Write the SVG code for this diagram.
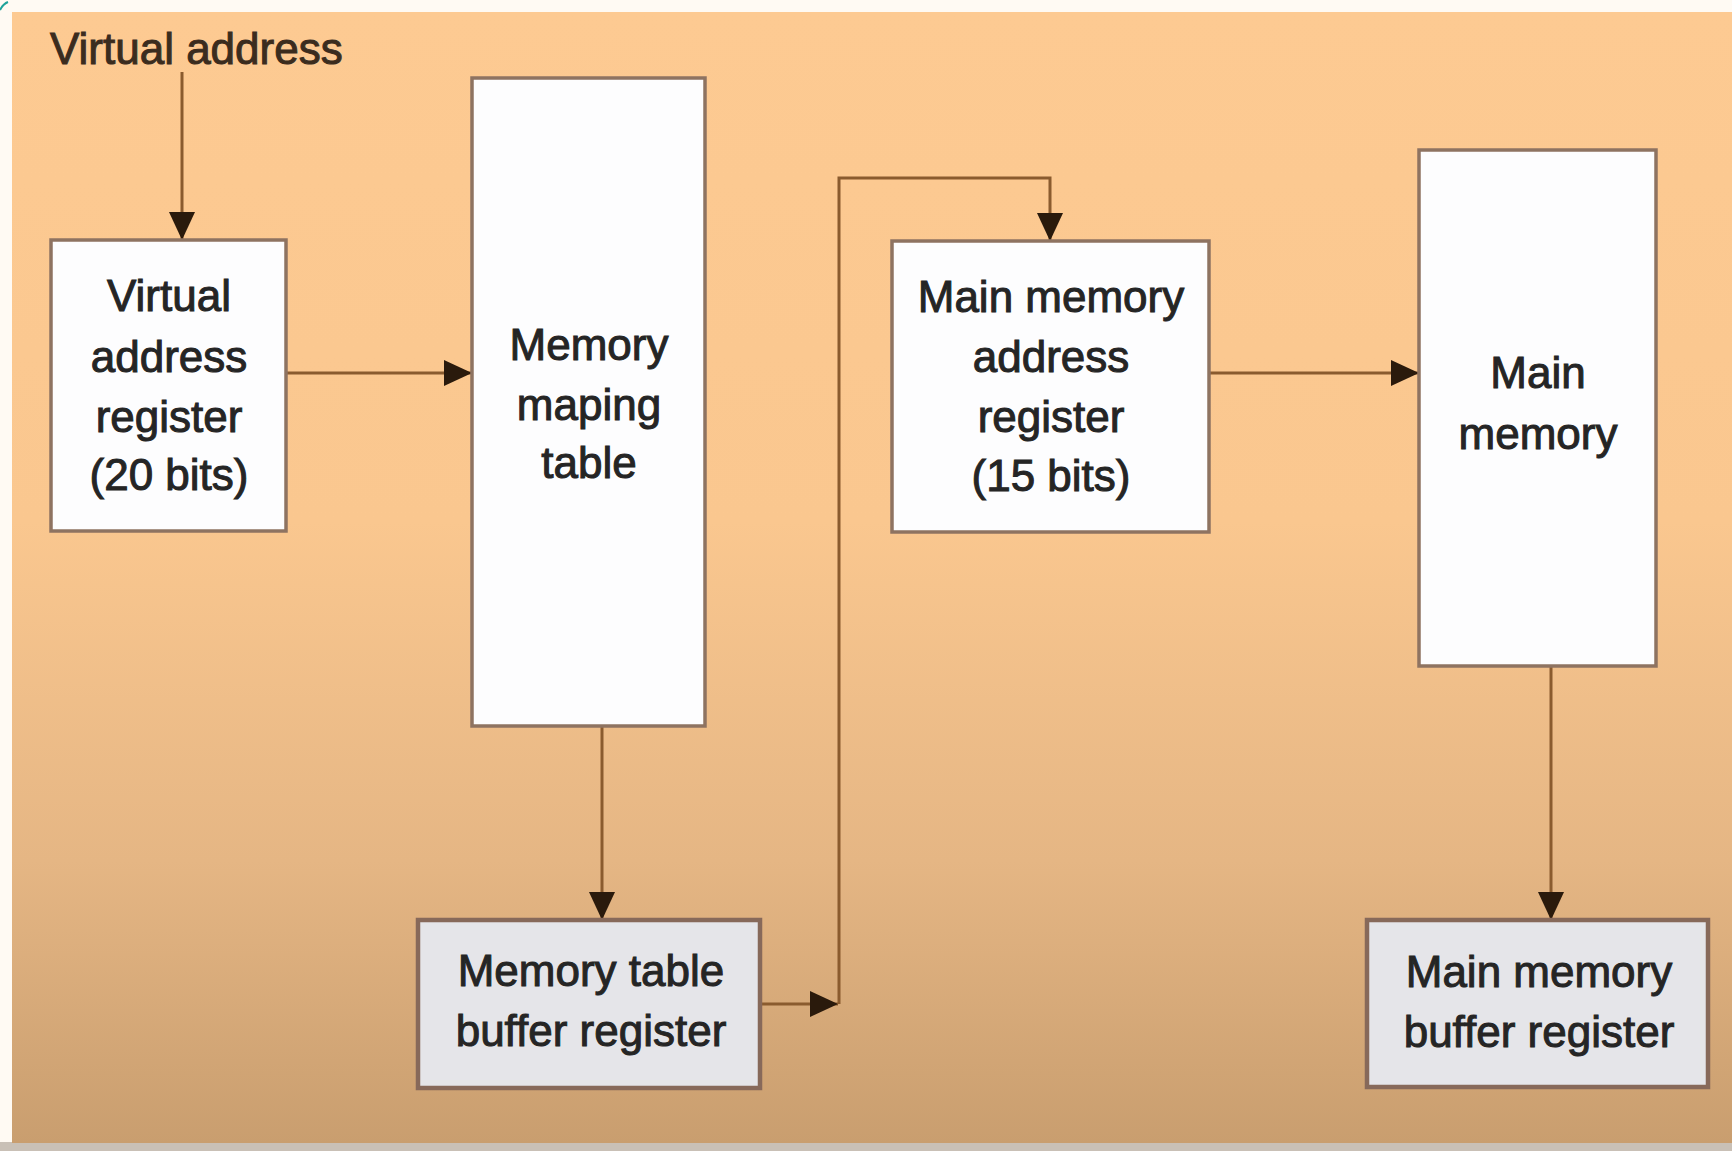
<svg xmlns="http://www.w3.org/2000/svg" width="1732" height="1151" viewBox="0 0 1732 1151">
  <style>
    .lbl { font-family: "Liberation Sans", Arial, sans-serif; font-size: 44px; fill: #252525; stroke: #252525; stroke-width: 1px; text-anchor: middle; }
    .title { font-family: "Liberation Sans", Arial, sans-serif; font-size: 44px; fill: #3b2c1e; stroke: #3b2c1e; stroke-width: 1px; }
    .box { fill: #fdfdfe; stroke: #8e7361; stroke-width: 3.5; }
    .buf { fill: #e5e5e9; stroke: #87695a; stroke-width: 4.5; }
    .wire { fill: none; stroke: #8a5b2e; stroke-width: 3; }
  </style>
  <defs>
    <linearGradient id="bg" x1="0" y1="0" x2="0" y2="1">
      <stop offset="0" stop-color="#fdca92"/>
      <stop offset="0.45" stop-color="#fac78f"/>
      <stop offset="0.75" stop-color="#e5b684"/>
      <stop offset="1" stop-color="#c99e6f"/>
    </linearGradient>
    <marker id="head" markerUnits="userSpaceOnUse" markerWidth="30" markerHeight="28" refX="28" refY="13" orient="auto">
      <path d="M0,0 L28,13 L0,26 Z" fill="#2a1a0c"/>
    </marker>
  </defs>

  <!-- page surround -->
  <rect x="0" y="0" width="1732" height="1151" fill="#fffaf3"/>
  <rect x="0" y="1142" width="1732" height="9" fill="#c9c0b6"/>
  <path d="M0,10 Q3,4 8,2" fill="none" stroke="#1fa39a" stroke-width="2"/>

  <!-- panel background -->
  <rect x="12" y="12" width="1720" height="1131" fill="url(#bg)"/>

  <text class="title" x="50" y="64">Virtual address</text>

  <!-- connectors -->
  <g id="connectors">
    <path class="wire" d="M182,72 V240" marker-end="url(#head)"/>
    <path class="wire" d="M286,373 H472" marker-end="url(#head)"/>
    <path class="wire" d="M602,726 V920" marker-end="url(#head)"/>
    <path class="wire" d="M760,1004 H838" marker-end="url(#head)"/>
    <path class="wire" d="M839,1004 V178 H1050 V241" marker-end="url(#head)"/>
    <path class="wire" d="M1209,373 H1419" marker-end="url(#head)"/>
    <path class="wire" d="M1551,666 V920" marker-end="url(#head)"/>
  </g>

  <!-- nodes -->
  <g id="virtual-address-register">
    <rect class="box" x="51" y="240" width="235" height="291"/>
    <text class="lbl" x="169" y="311">Virtual</text>
    <text class="lbl" x="169" y="372">address</text>
    <text class="lbl" x="169" y="432">register</text>
    <text class="lbl" x="169" y="490">(20 bits)</text>
  </g>

  <g id="memory-mapping-table">
    <rect class="box" x="472" y="78" width="233" height="648"/>
    <text class="lbl" x="589" y="360">Memory</text>
    <text class="lbl" x="589" y="420">maping</text>
    <text class="lbl" x="589" y="478">table</text>
  </g>

  <g id="memory-table-buffer-register">
    <rect class="buf" x="418" y="920" width="342" height="168"/>
    <text class="lbl" x="591" y="986">Memory table</text>
    <text class="lbl" x="591" y="1046">buffer register</text>
  </g>

  <g id="main-memory-address-register">
    <rect class="box" x="892" y="241" width="317" height="291"/>
    <text class="lbl" x="1051" y="312">Main memory</text>
    <text class="lbl" x="1051" y="372">address</text>
    <text class="lbl" x="1051" y="432">register</text>
    <text class="lbl" x="1051" y="491">(15 bits)</text>
  </g>

  <g id="main-memory">
    <rect class="box" x="1419" y="150" width="237" height="516"/>
    <text class="lbl" x="1538" y="388">Main</text>
    <text class="lbl" x="1538" y="449">memory</text>
  </g>

  <g id="main-memory-buffer-register">
    <rect class="buf" x="1367" y="920" width="341" height="167"/>
    <text class="lbl" x="1539" y="987">Main memory</text>
    <text class="lbl" x="1539" y="1047">buffer register</text>
  </g>
</svg>
